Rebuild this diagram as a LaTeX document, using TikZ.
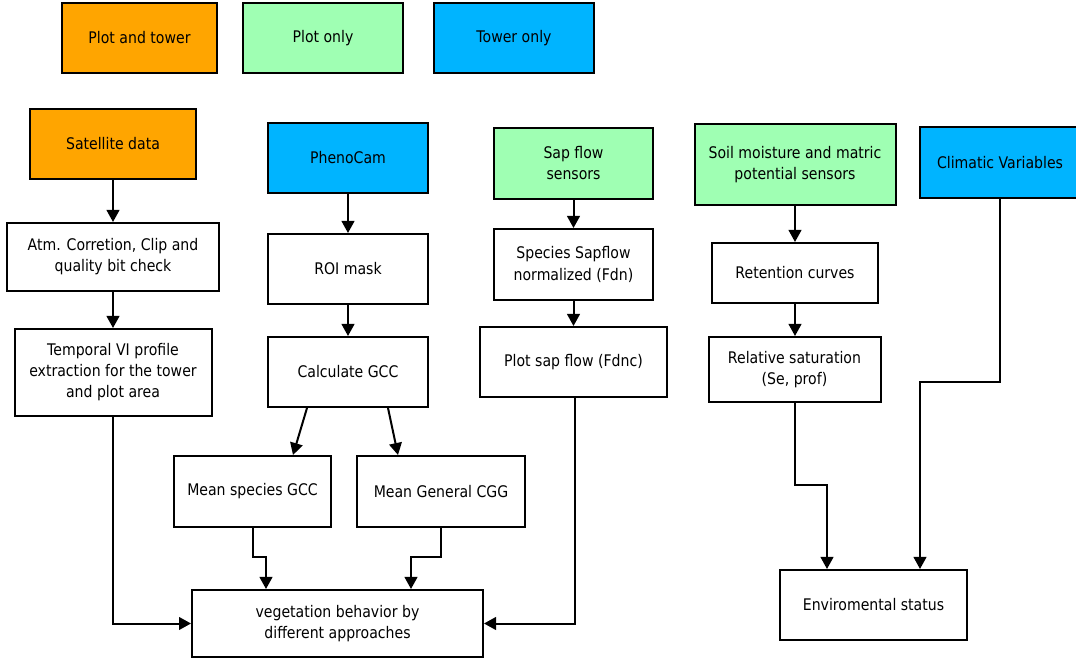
\documentclass[tikz,border=0pt]{standalone}
\usepackage{fontspec}
\setmainfont{DejaVu Sans}[FakeStretch=0.88]
\usetikzlibrary{arrows.meta,calc}
\definecolor{cOrange}{RGB}{255,165,0}
\definecolor{cGreen}{RGB}{159,255,179}
\definecolor{cBlue}{RGB}{0,180,255}
\tikzset{
  box/.style={draw=black, line width=1.5pt, rectangle, inner sep=0pt, align=center,
    font=\fontsize{12}{15.8}\selectfont, text=black},
  arr/.style={line width=1.5pt, -{Triangle[length=9pt,width=9.5pt]}},
  orangebox/.style={box, fill=cOrange},
  greenbox/.style={box, fill=cGreen},
  bluebox/.style={box, fill=cBlue},
  whitebox/.style={box, fill=white},
}
\begin{document}
\begin{tikzpicture}[x=0.75pt, y=-0.75pt]
\useasboundingbox (0,0) rectangle (1076,659);
\clip (0,0) rectangle (1076,659);
\fill[white] (0,0) rectangle (1076,659);
% legend
\node[orangebox, minimum width=155*0.75pt, minimum height=70*0.75pt] (pt) at (139.5,38) {Plot and tower};
\node[greenbox, minimum width=160*0.75pt, minimum height=70*0.75pt] (po) at (323,38) {Plot only};
\node[bluebox, minimum width=160*0.75pt, minimum height=70*0.75pt] (to) at (514,38) {Tower only};
% column 1
\node[orangebox, minimum width=166*0.75pt, minimum height=70*0.75pt] (sat) at (113,144) {Satellite data};
\node[whitebox, minimum width=212*0.75pt, minimum height=68*0.75pt] (atm) at (113,257) {Atm. Corretion, Clip and\\quality bit check};
\node[whitebox, minimum width=197*0.75pt, minimum height=87*0.75pt] (temp) at (113,372.5) {Temporal VI profile\\extraction for the tower\\and plot area};
% column 2
\node[bluebox, minimum width=160*0.75pt, minimum height=70*0.75pt] (pheno) at (348,158) {PhenoCam};
\node[whitebox, minimum width=160*0.75pt, minimum height=70*0.75pt] (roi) at (348,269) {ROI mask};
\node[whitebox, minimum width=160*0.75pt, minimum height=70*0.75pt] (calcgcc) at (348,372) {Calculate GCC};
\node[whitebox, minimum width=157*0.75pt, minimum height=71*0.75pt] (msp) at (252.5,491.5) {Mean species GCC};
\node[whitebox, minimum width=168*0.75pt, minimum height=71*0.75pt] (mgen) at (441,491.5) {Mean General CGG};
\node[whitebox, minimum width=291*0.75pt, minimum height=67*0.75pt] (veg) at (337.5,623.5) {vegetation behavior by\\different approaches};
% column 3
\node[greenbox, minimum width=159*0.75pt, minimum height=71*0.75pt] (sap) at (573.5,163.5) {Sap flow\\sensors};
\node[whitebox, minimum width=159*0.75pt, minimum height=71*0.75pt] (ssap) at (573.5,264.5) {Species Sapflow\\normalized (Fdn)};
\node[whitebox, minimum width=187*0.75pt, minimum height=70*0.75pt] (psap) at (573.5,362) {Plot sap flow (Fdnc)};
% column 4
\node[greenbox, minimum width=201*0.75pt, minimum height=81*0.75pt] (soil) at (795,164.5) {Soil moisture and matric\\potential sensors};
\node[whitebox, minimum width=166*0.75pt, minimum height=60*0.75pt] (ret) at (795,273) {Retention curves};
\node[whitebox, minimum width=172*0.75pt, minimum height=65*0.75pt] (rel) at (794.5,369.5) {Relative saturation\\(Se, prof)};
% column 5
\node[bluebox, minimum width=160*0.75pt, minimum height=71*0.75pt] (clim) at (1000,162.5) {Climatic Variables};
\node[whitebox, minimum width=187*0.75pt, minimum height=70*0.75pt] (env) at (873.5,605) {Enviromental status};
% connectors
\draw[arr] (sat) -- (atm);
\draw[arr] (atm) -- (temp);
\draw[arr] (temp.south) |- (veg.west);
\draw[arr] (pheno) -- (roi);
\draw[arr] (roi) -- (calcgcc);
\draw[arr] ($(calcgcc.south)+(-41,0)$) -- ($(msp.north)+(40.5,0)$);
\draw[arr] ($(calcgcc.south)+(40,0)$) -- ($(mgen.north)+(-43,0)$);
\draw[arr] (msp.south) |- ($(veg.north)+(-71.5,-32)$) -- ($(veg.north)+(-71.5,0)$);
\draw[arr] (mgen.south) |- ($(veg.north)+(73.5,-32)$) -- ($(veg.north)+(73.5,0)$);
\draw[arr] ($(psap.south)+(1.5,0)$) |- (veg.east);
\draw[arr] (sap) -- (ssap);
\draw[arr] (ssap) -- (psap);
\draw[arr] (soil) -- (ret);
\draw[arr] (ret.south) -- (ret.south |- rel.north);
\draw[arr] (rel.south) |- ($(env.north)+(-46.5,-84)$) -- ($(env.north)+(-46.5,0)$);
\draw[arr] (clim.south) |- ($(env.north)+(46.5,-187)$) -- ($(env.north)+(46.5,0)$);
\end{tikzpicture}
\end{document}
